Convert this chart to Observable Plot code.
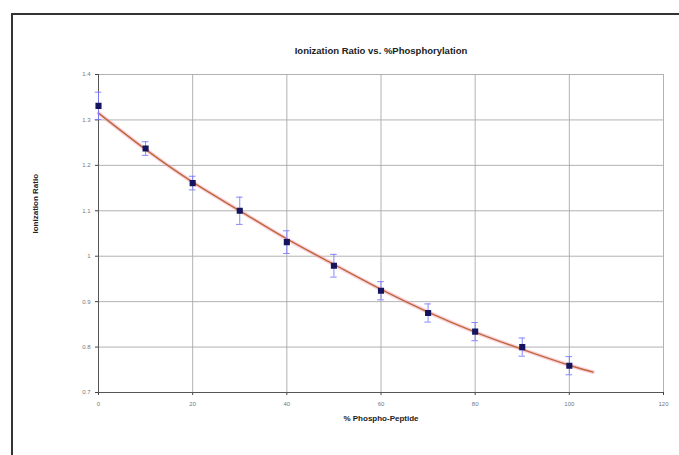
<!DOCTYPE html>
<html>
<head>
<meta charset="utf-8">
<script src="https://cdn.jsdelivr.net/npm/d3@7"></script>
<script src="https://cdn.jsdelivr.net/npm/@observablehq/plot@0.6"></script>
<style>
  html, body { margin: 0; padding: 0; background: #fff; overflow: hidden; }
  #wrap { position: relative; width: 679px; height: 455px; }
  #border { position: absolute; left: 11px; top: 13px; width: 700px; height: 460px;
            border-left: 2px solid #333; border-top: 2px solid #333; box-sizing: border-box; pointer-events: none; }
  #chart { position: absolute; left: 0; top: 0; }
</style>
</head>
<body>
<div id="wrap"><div id="chart"></div><div id="border"></div></div>
<script>
// Measured points (% phospho-peptide vs ionization ratio)
const pct = [0, 10, 20, 30, 40, 50, 60, 70, 80, 90, 100];
const ratio = [1.331, 1.237, 1.161, 1.100, 1.031, 0.979, 0.924, 0.875, 0.834, 0.800, 0.759];
const err = [0.03, 0.015, 0.015, 0.03, 0.025, 0.025, 0.02, 0.02, 0.02, 0.02, 0.02];
// Trendline
const fitX = [0, 10, 20, 30, 40, 50, 60, 70, 80, 90, 100, 105];
const fitY = [1.315, 1.235, 1.163, 1.100, 1.038, 0.982, 0.927, 0.877, 0.833, 0.795, 0.760, 0.745];
// Axis ticks
const xTicks = [0, 20, 40, 60, 80, 100, 120];
const yTicks = [0.7, 0.8, 0.9, 1, 1.1, 1.2, 1.3, 1.4];

const title = "Ionization Ratio vs. %Phosphorylation";
const xLabel = "% Phospho-Peptide";
const yLabel = "Ionization Ratio";

const pts = pct.map((p, i) => ({x: p, y: ratio[i], e: err[i]}));
const fit = fitX.map((x, i) => ({x, y: fitY[i]}));
const fmt = d => String(d);

const chart = Plot.plot({
  width: 679,
  height: 455,
  marginLeft: 98,
  marginRight: 16,
  marginTop: 74,
  marginBottom: 63,
  style: {fontFamily: "Arial, 'Liberation Sans', sans-serif", background: "#fff"},
  x: {type: "linear", domain: [0, 120], label: null},
  y: {type: "linear", domain: [0.7, 1.4], label: null},
  marks: [
    Plot.gridX(xTicks, {stroke: "#aaa", strokeOpacity: 0.9, strokeWidth: 1}),
    Plot.gridY(yTicks, {stroke: "#aaa", strokeOpacity: 0.9, strokeWidth: 1}),
    Plot.axisX(xTicks, {fontSize: 6, fill: "#777", stroke: "#444", tickSize: 3, tickPadding: 6, label: null, tickFormat: fmt}),
    Plot.axisY(yTicks, {fontSize: 6, fill: "#777", stroke: "#444", tickSize: 3, tickPadding: 5, label: null, tickFormat: fmt}),
    Plot.ruleX([0], {stroke: "#555"}),
    Plot.ruleY([0.7], {stroke: "#555"}),
    Plot.line(fit, {x: "x", y: "y", curve: "natural", stroke: "#f2a0b8", strokeWidth: 4, strokeOpacity: 0.45}),
    Plot.line(fit, {x: "x", y: "y", curve: "natural", stroke: "#c0683c", strokeWidth: 1.5}),
    Plot.ruleX(pts, {x: "x", y1: d => d.y - d.e, y2: d => d.y + d.e, stroke: "#7a7aff", strokeWidth: 0.9}),
    Plot.ruleY(pts, {y: d => d.y - d.e, x1: d => d.x - 0.7, x2: d => d.x + 0.7, stroke: "#7a7aff", strokeWidth: 0.9}),
    Plot.ruleY(pts, {y: d => d.y + d.e, x1: d => d.x - 0.7, x2: d => d.x + 0.7, stroke: "#7a7aff", strokeWidth: 0.9}),
    Plot.dot(pts, {x: "x", y: "y", symbol: "square", r: 2.6, fill: "#15155e", stroke: "#15155e"}),
    Plot.text([title], {frameAnchor: "top", dy: -27, fontSize: 9.5, fontWeight: "bold", fill: "#222"}),
    Plot.text([xLabel], {frameAnchor: "bottom", dy: 28, fontSize: 8, fontWeight: "bold", fill: "#222"}),
    Plot.text([yLabel], {frameAnchor: "left", dx: -63, dy: 0, rotate: -90, fontSize: 8, fontWeight: "bold", fill: "#222"})
  ]
});
document.getElementById("chart").appendChild(chart);
</script>
</body>
</html>
